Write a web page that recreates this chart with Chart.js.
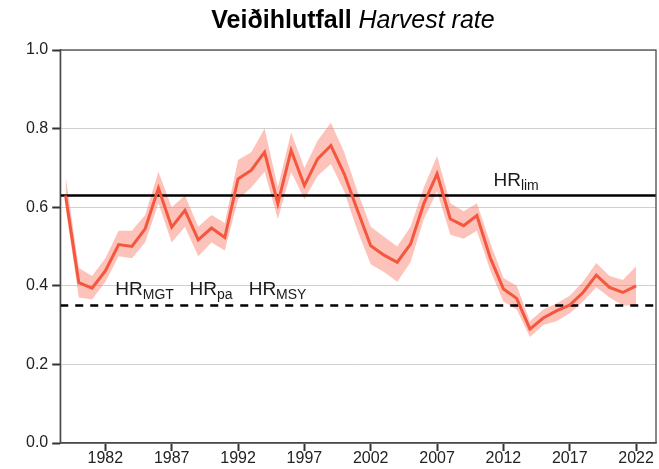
<!DOCTYPE html>
<html>
<head>
<meta charset="utf-8">
<script src="https://cdn.jsdelivr.net/npm/chart.js@4.4.1/dist/chart.umd.min.js"></script>
<style>
  html, body { margin: 0; padding: 0; background: #fff; }
  #wrap { width: 659px; height: 469px; }
</style>
</head>
<body>
<div id="wrap"><canvas id="myChart" width="659" height="469"></canvas></div>
<script>
// Data
const years = [1979, 1980, 1981, 1982, 1983, 1984, 1985, 1986, 1987, 1988, 1989,
  1990, 1991, 1992, 1993, 1994, 1995, 1996, 1997, 1998, 1999, 2000, 2001, 2002,
  2003, 2004, 2005, 2006, 2007, 2008, 2009, 2010, 2011, 2012, 2013, 2014, 2015,
  2016, 2017, 2018, 2019, 2020, 2021, 2022];
const harvestRate = [0.630, 0.408, 0.394, 0.438, 0.505, 0.500, 0.545, 0.648, 0.549, 0.592, 0.517,
  0.547, 0.523, 0.672, 0.694, 0.740, 0.609, 0.745, 0.655, 0.723, 0.757, 0.685, 0.592, 0.502,
  0.478, 0.460, 0.506, 0.609, 0.685, 0.570, 0.553, 0.579, 0.472, 0.392, 0.368, 0.290, 0.318,
  0.336, 0.351, 0.383, 0.427, 0.396, 0.383, 0.400];
const rateLower = [0.600, 0.370, 0.365, 0.410, 0.475, 0.470, 0.510, 0.610, 0.510, 0.550, 0.475,
  0.510, 0.490, 0.620, 0.650, 0.690, 0.570, 0.690, 0.620, 0.680, 0.710, 0.640, 0.540, 0.455,
  0.435, 0.410, 0.460, 0.570, 0.640, 0.530, 0.520, 0.540, 0.440, 0.360, 0.340, 0.270, 0.300,
  0.310, 0.330, 0.360, 0.396, 0.370, 0.350, 0.350];
const rateUpper = [0.680, 0.445, 0.425, 0.470, 0.540, 0.540, 0.580, 0.690, 0.600, 0.630, 0.550,
  0.580, 0.560, 0.720, 0.740, 0.800, 0.650, 0.790, 0.700, 0.770, 0.815, 0.740, 0.640, 0.550,
  0.525, 0.500, 0.550, 0.650, 0.730, 0.610, 0.590, 0.610, 0.510, 0.420, 0.400, 0.310, 0.340,
  0.355, 0.375, 0.410, 0.458, 0.425, 0.415, 0.450];
const xTicks = [1982, 1987, 1992, 1997, 2002, 2007, 2012, 2017, 2022];
const yTicks = [0.0, 0.2, 0.4, 0.6, 0.8, 1.0];
const hrLim = 0.63;
const hrTarget = 0.35;
// reference labels: [main, subscript, x, y]
const refLabels = [
  ["HR", "MGT", 1982.75, 0.376],
  ["HR", "pa", 1988.35, 0.376],
  ["HR", "MSY", 1992.8, 0.376],
  ["HR", "lim", 2011.25, 0.655]
];

const xMin = 1978.6;
const xMax = 2023.5;
const fontFamily = "'Liberation Sans', Arial, sans-serif";

const toPoints = (arr) => arr.map((v, i) => ({ x: years[i], y: v }));

// Draws title, box and the HR labels
const extras = {
  id: "extras",
  afterDraw(chart) {
    const c = chart.ctx;
    const area = chart.chartArea;
    const xs = chart.scales.x;
    const ys = chart.scales.y;
    c.save();

    // box round the plot
    c.strokeStyle = "#4a4a4a";
    c.lineWidth = 1.3;
    c.strokeRect(area.left, area.top, area.right - area.left, area.bottom - area.top);

    // title, bold + italic
    c.fillStyle = "#000";
    c.textBaseline = "alphabetic";
    c.textAlign = "left";
    const boldFont = "bold 25px " + fontFamily;
    const italFont = "italic 25px " + fontFamily;
    const part1 = "Veiðihlutfall ";
    const part2 = "Harvest rate";
    c.font = boldFont;
    const w1 = c.measureText(part1).width;
    c.font = italFont;
    const w2 = c.measureText(part2).width;
    let tx = 353 - (w1 + w2) / 2;
    c.font = boldFont;
    c.fillText(part1, tx, 28);
    c.font = italFont;
    c.fillText(part2, tx + w1, 28);

    // HR labels
    c.fillStyle = "#1a1a1a";
    refLabels.forEach(([main, sub, xv, yv]) => {
      const px = xs.getPixelForValue(xv);
      const py = ys.getPixelForValue(yv);
      c.font = "19px " + fontFamily;
      c.fillText(main, px, py);
      const mw = c.measureText(main).width;
      c.font = "14px " + fontFamily;
      c.fillText(sub, px + mw, py + 4);
    });
    c.restore();
  }
};

new Chart(document.querySelector("#myChart"), {
  type: "line",
  data: {
    datasets: [
      {
        label: "Harvest rate",
        data: toPoints(harvestRate),
        borderColor: "#f4563e",
        borderWidth: 3,
        pointRadius: 0,
        fill: false,
        tension: 0
      },
      {
        label: "HRlim",
        data: [{ x: xMin, y: hrLim }, { x: xMax, y: hrLim }],
        borderColor: "#000",
        borderWidth: 2.5,
        pointRadius: 0,
        fill: false
      },
      {
        label: "HRmgt",
        data: [{ x: xMin, y: hrTarget }, { x: xMax, y: hrTarget }],
        borderColor: "#000",
        borderWidth: 2.5,
        borderDash: [8, 7],
        pointRadius: 0,
        fill: false
      },
      {
        label: "upper",
        data: toPoints(rateUpper),
        borderWidth: 0,
        borderColor: "rgba(0,0,0,0)",
        backgroundColor: "rgba(250,120,100,0.45)",
        pointRadius: 0,
        fill: 4
      },
      {
        label: "lower",
        data: toPoints(rateLower),
        borderWidth: 0,
        borderColor: "rgba(0,0,0,0)",
        pointRadius: 0,
        fill: false
      }
    ]
  },
  options: {
    responsive: false,
    animation: false,
    events: [],
    layout: { padding: { top: 50, left: 22, right: 3, bottom: 2 } },
    plugins: {
      legend: { display: false },
      title: { display: false },
      tooltip: { enabled: false }
    },
    scales: {
      x: {
        type: "linear",
        min: xMin,
        max: xMax,
        afterBuildTicks: (scale) => { scale.ticks = xTicks.map(v => ({ value: v })); },
        grid: {
          drawOnChartArea: false,
          drawTicks: true,
          tickLength: 8,
          tickWidth: 2,
          tickColor: "#333"
        },
        border: { display: true, color: "#4a4a4a", width: 1.3 },
        ticks: {
          autoSkip: false,
          maxRotation: 0,
          padding: 0,
          color: "#222",
          font: { family: fontFamily, size: 16, lineHeight: 1.0 },
          callback: (v) => String(v)
        }
      },
      y: {
        type: "linear",
        min: 0,
        max: 1,
        afterBuildTicks: (scale) => { scale.ticks = yTicks.map(v => ({ value: v })); },
        grid: {
          color: "#d0d0d0",
          lineWidth: 1,
          drawTicks: true,
          tickLength: 8,
          tickWidth: 2,
          tickColor: "#333"
        },
        border: { display: true, color: "#4a4a4a", width: 1.3 },
        ticks: {
          padding: 4,
          color: "#222",
          font: { family: fontFamily, size: 16 },
          callback: (v) => v.toFixed(1)
        }
      }
    }
  },
  plugins: [extras]
});
</script>
</body>
</html>
